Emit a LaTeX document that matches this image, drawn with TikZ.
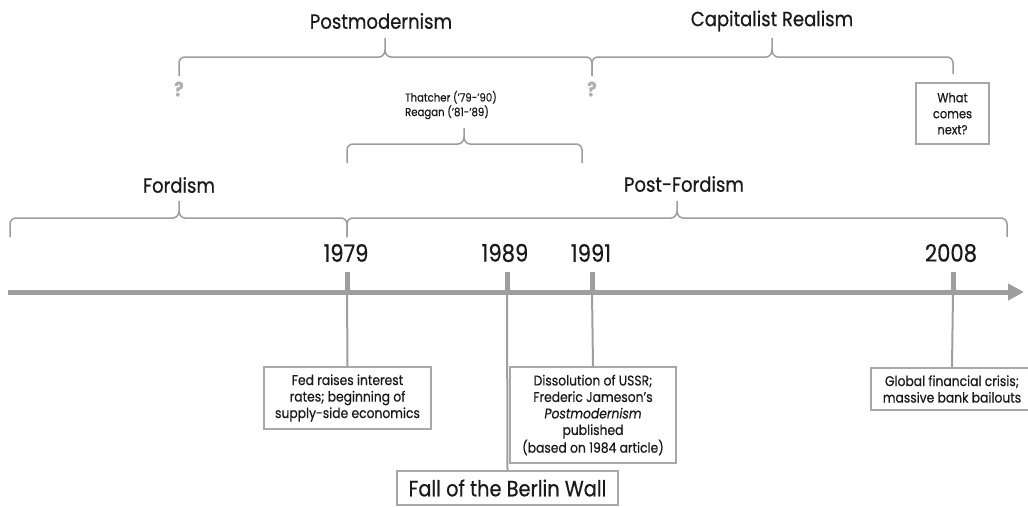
\documentclass[tikz,border=0pt]{standalone}
\usepackage{fontspec}
\setmainfont[FakeStretch=0.88,FakeBold=0.6]{Poppins}
\usetikzlibrary{arrows.meta}
\definecolor{txt}{HTML}{1A1A1A}
\definecolor{brcgray}{HTML}{9C9C9C}
\definecolor{axisgray}{HTML}{9E9E9E}
\definecolor{boxgray}{HTML}{A8A8A8}
\definecolor{qgray}{HTML}{AFAFAF}
\newcommand{\tlbrace}[7]{%
\draw[brc] (#1,#6) -- (#1,#4+6) to[out=90,in=180] (#1+6,#4) -- (#3-6,#4) to[out=0,in=-90] (#3,#4-7) -- (#3,#5);
\draw[brc] (#2,#7) -- (#2,#4+6) to[out=90,in=0] (#2-6,#4) -- (#3+6,#4) to[out=180,in=-90] (#3,#4-7);}
\begin{document}
\begin{tikzpicture}[x=1pt,y=-1pt,
  brc/.style={draw=brcgray,line width=1.5pt},
  era/.style={text=txt,font=\fontsize{20.5}{24}\selectfont,inner sep=0pt},
  year/.style={text=txt,font=\fontsize{24}{28}\selectfont,inner sep=0pt},
  evbox/.style={draw=boxgray,line width=1.2pt,text=txt,align=center,font=\fontsize{14}{16.5}\selectfont,inner sep=0pt},
  evline/.style={draw=axisgray,line width=2pt},
  tick/.style={draw=axisgray,line width=5pt},
  qmark/.style={text=qgray,font=\bfseries\fontsize{20}{22}\selectfont,inner sep=0pt}]
\useasboundingbox (0,0) rectangle (1028,506);
% era labels
\node[era] (pomo) at (381,21) {Postmodernism};
\node[era] (capr) at (772,21) {Capitalist Realism};
\node[era] (ford) at (179,185) {Fordism};
\node[era] (pford) at (684,184) {Post-Fordism};
\node[text=txt,font=\fontsize{11.5}{14.5}\selectfont,align=left,inner sep=0pt] (tr) at (451,105) {Thatcher (’79-’90)\\Reagan (’81-’89)};
\node[qmark] (q1) at (179,89) {?};
\node[qmark] (q2) at (592,89) {?};
\node[evbox,minimum width=73pt,minimum height=61pt,font=\fontsize{13}{16}\selectfont] (next) at (952.5,113.5) {What\\comes\\next?};
% braces
\tlbrace{179}{592}{385}{57}{38}{76}{76}
\tlbrace{592}{953}{772}{57}{38}{76}{74}
\tlbrace{347}{582}{464}{144}{128}{163}{163}
\tlbrace{10}{347}{179}{218}{201}{237}{237}
\tlbrace{347}{1007}{677}{218}{201}{237}{237}
% axis
\coordinate (a0) at (8,292);
\coordinate (a1) at (1024,292);
\draw[draw=axisgray,line width=5pt,-{Triangle[length=16pt,width=16pt]}] (a0) -- (a1);
% ticks and years
\coordinate (t79) at (347,292);
\coordinate (t89) at (507,292);
\coordinate (t91) at (592,292);
\coordinate (t08) at (953,292);
\draw[tick] (347,272) -- (t79);
\draw[tick] (507,272) -- (t89);
\draw[tick] (592,272) -- (t91);
\draw[tick] (953,272) -- (t08);
\node[year] (y79) at (346,253) {1979};
\node[year] (y89) at (505,253) {1989};
\node[year] (y91) at (591,253) {1991};
\node[year] (y08) at (951,253) {2008};
% event boxes
\node[evbox,minimum width=167pt,minimum height=62pt] (fed) at (347.5,398) {Fed raises interest\\rates; beginning of\\supply-side economics};
\node[evbox,minimum width=166pt,minimum height=96pt] (ussr) at (593,415) {Dissolution of USSR;\\Frederic Jameson’s\\\textit{Postmodernism}\\published\\(based on 1984 article)};
\node[evbox,minimum width=221pt,minimum height=34pt,font=\fontsize{22}{24}\selectfont] (wall) at (507.5,488) {Fall of the Berlin Wall};
\node[evbox,minimum width=162pt,minimum height=42pt] (gfc) at (952,389) {Global financial crisis;\\massive bank bailouts};
% event lines
\draw[evline] (t79) -- (fed.north);
\draw[evline] (t89) -- (wall.north);
\draw[evline] (t91) -- (ussr.north);
\draw[evline] (t08) -- (gfc.north);
\end{tikzpicture}
\end{document}
